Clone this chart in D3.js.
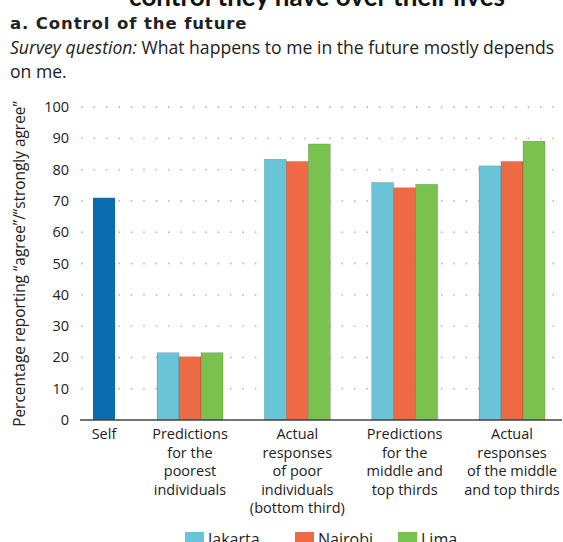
<!DOCTYPE html>
<html><head><meta charset="utf-8">
<script src="https://cdn.jsdelivr.net/npm/d3@7"></script>
<style>
body{margin:0;background:#fff;}
svg{display:block;font-family:"Open Sans",Lato,sans-serif;}
</style></head>
<body><svg id="c" width="563" height="542"></svg>
<script>
const categories = ["Self","Predictions for the poorest individuals","Actual responses of poor individuals (bottom third)","Predictions for the middle and top thirds","Actual responses of the middle and top thirds"];
const categoryLines = [["Self"],["Predictions","for the","poorest","individuals"],["Actual","responses","of poor","individuals","(bottom third)"],["Predictions","for the","middle and","top thirds"],["Actual","responses","of the middle","and top thirds"]];
const selfValue = 71;
const seriesNames = ["Jakarta","Nairobi","Lima"];
const jakarta = [null, 21.5, 83.3, 75.9, 81.2];
const nairobi = [null, 20.2, 82.6, 74.2, 82.6];
const lima    = [null, 21.5, 88.2, 75.3, 89.1];
const yTicks = [0,10,20,30,40,50,60,70,80,90,100];
const colors = {Self:"#0b6cae", Jakarta:"#68c4d6", Nairobi:"#ee6a45", Lima:"#79c24e"};

const svg = d3.select("#c");
const y = d3.scaleLinear().domain([0,100]).range([420,107]);
const xC = d3.scalePoint().domain(categories.slice(1)).range([190,512]);
const center = (c,i) => i===0 ? xC(categories[1]) - 86 : xC(c);
const barW = 22;
const xSub = d3.scaleBand().domain(seriesNames).range([-1.5*barW, 1.5*barW]).padding(0);

// top cut title (cut off in the reference too)
svg.append("text").attr("x",505).attr("y",6).attr("text-anchor","end")
  .attr("font-family","Lato,sans-serif")
  .attr("font-size",26).attr("font-weight",700).attr("fill","#111")
  .text("control they have over their lives");

svg.append("text").attr("x",10).attr("y",29).attr("font-size",16.5).attr("font-weight",700)
  .attr("font-family","'DejaVu Sans',sans-serif").attr("letter-spacing",0.9)
  .attr("fill","#222").text("a. Control of the future");
const q = svg.append("text").attr("x",10).attr("y",54).attr("font-size",17.6).attr("fill","#222");
q.append("tspan").attr("font-style","italic").text("Survey question:");
q.append("tspan").text(" What happens to me in the future mostly depends");
svg.append("text").attr("x",10).attr("y",78).attr("font-size",17.6).attr("fill","#222").text("on me.");

// grid
const dotXs = d3.range(82, 562, 12.4);
yTicks.filter(t=>t>0).forEach(t=>{
  svg.append("g").selectAll("circle").data(dotXs).join("circle")
    .attr("cx",d=>d).attr("cy",y(t)).attr("r",0.9).attr("fill","#b8b8b8");
});

// y axis labels
svg.append("g").selectAll("text").data(yTicks).join("text")
  .attr("x",69).attr("y",d=>y(d)).attr("dy","0.35em").attr("text-anchor","end")
  .attr("font-size",14.5).attr("fill","#222").text(d=>d);

svg.append("text").attr("transform","translate(25,264) rotate(-90)")
  .attr("text-anchor","middle").attr("font-size",15.4).attr("fill","#222")
  .text("Percentage reporting \u201cagree\u201d/\u201cstrongly agree\u201d");

// bars
svg.append("rect").attr("x",center(categories[0],0)-barW/2).attr("width",barW)
  .attr("y",y(selfValue)).attr("height",y(0)-y(selfValue)).attr("fill",colors.Self);
const series = {Jakarta:jakarta, Nairobi:nairobi, Lima:lima};
seriesNames.forEach(s=>{
  svg.append("g").selectAll("rect").data(categories.map((c,i)=>({c,i,v:series[s][i]})).filter(d=>d.v!=null))
    .join("rect")
    .attr("x",d=>center(d.c,d.i)+xSub(s)).attr("width",xSub.bandwidth())
    .attr("y",d=>y(d.v)).attr("height",d=>y(0)-y(d.v))
    .attr("fill",colors[s]).attr("stroke","rgba(0,0,0,0.25)").attr("stroke-width",0.5);
});

// baseline
svg.append("line").attr("x1",80).attr("x2",562).attr("y1",y(0)).attr("y2",y(0))
  .attr("stroke","#444").attr("stroke-width",1.5);

// category labels
categories.forEach((c,i)=>{
  const t = svg.append("text").attr("text-anchor","middle").attr("font-size",14.5).attr("fill","#222");
  categoryLines[i].forEach((l,j)=>{
    t.append("tspan").attr("x",center(c,i)).attr("y",439+j*18.5).text(l);
  });
});

// legend (cut at bottom edge as in the reference)
const legX = [185,295,398];
seriesNames.forEach((s,i)=>{
  svg.append("rect").attr("x",legX[i]).attr("y",532).attr("width",19).attr("height",14).attr("fill",colors[s]);
  svg.append("text").attr("x",legX[i]+23).attr("y",545).attr("font-size",16).attr("fill","#222").text(s);
});
</script></body></html>
